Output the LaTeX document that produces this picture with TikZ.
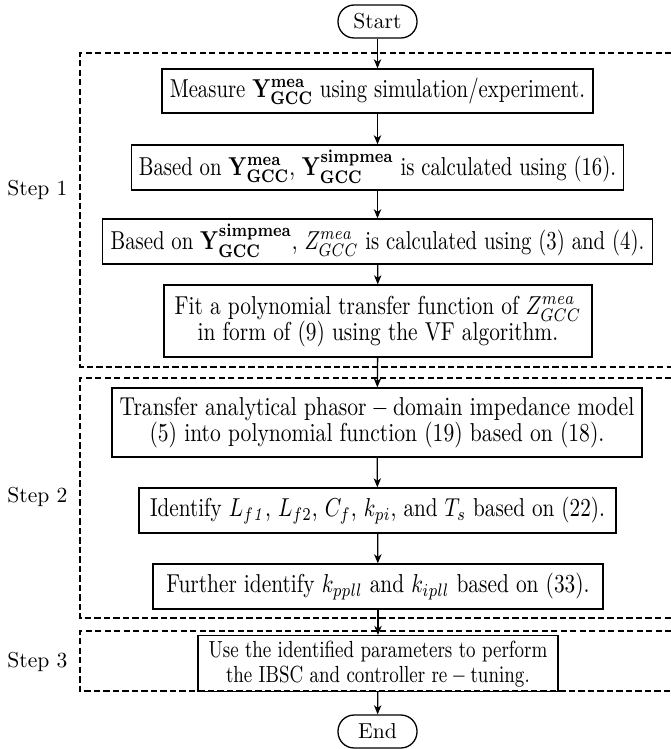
\documentclass[tikz,border=0pt]{standalone}
\usepackage{graphicx}
\usetikzlibrary{arrows.meta}
% box captions are set slightly condensed and tall
\newcommand\boxtext[2][0.96]{\scalebox{#1}[1.2]{\begin{tabular}{@{}c@{}}#2\end{tabular}}}
\begin{document}
\begin{tikzpicture}[x=0.463pt,y=-0.463pt,
  proc/.style 2 args={draw,line width=0.6pt,align=center,inner sep=0pt,
    minimum width={#1*0.463pt},minimum height={#2*0.463pt}},
  term/.style={draw,line width=0.6pt,rounded corners=7.5pt,inner sep=0pt,
    minimum width={79*0.463pt},minimum height={33*0.463pt}},
  stage/.style={draw,line width=0.6pt,dash pattern=on 2.9pt off 1.5pt},
  flow/.style={-{Stealth[length=4.2pt,width=3.4pt,inset=1.2pt]},line width=0.6pt},
  steplabel/.style={anchor=west,inner sep=0pt}]
  \clip (0,0) rectangle (671,749);

  % stage frames (open to the right)
  \draw[stage] (700,53)  -- (80,53)  -- (80,367) -- (700,367);
  \draw[stage] (700,378) -- (80,378) -- (80,618) -- (700,618);
  \draw[stage] (700,631) -- (80,631) -- (80,691) -- (700,691);

  \node[steplabel] (s1) at (7,190) {Step 1};
  \node[steplabel] (s2) at (7,497) {Step 2};
  \node[steplabel] (s3) at (7,662) {Step 3};

  % flow chart
  \node[term] (start) at (377.5,21.5) {Start};
  \node[proc={431}{44}] (b1) at (377.5,91)
    {\boxtext{Measure $\mathbf{Y}_{\mathbf{GCC}}^{\mathbf{mea}}$ using simulation/experiment.}};
  \node[proc={492}{45}] (b2) at (377.5,167.5)
    {\boxtext{Based on $\mathbf{Y}_{\mathbf{GCC}}^{\mathbf{mea}}$, $\mathbf{Y}_{\mathbf{GCC}}^{\mathbf{simpmea}}$ is calculated using $(16)$.}};
  \node[proc={550}{45}] (b3) at (377.5,241.5)
    {\boxtext{Based on $\mathbf{Y}_{\mathbf{GCC}}^{\mathbf{simpmea}}$, $Z_{GCC}^{mea}$ is calculated using $(3)$ and $(4)$.}};
  \node[proc={428}{72}] (b4) at (378,321)
    {\boxtext[0.99]{Fit a polynomial transfer function of $Z_{GCC}^{mea}$\\[-2pt] in form of $(9)$ using the VF algorithm.}};
  \node[proc={530}{69}] (b5) at (377,422.5)
    {\boxtext[1]{Transfer analytical $\mathrm{phasor-domain}$ impedance model\\[-2pt] $(5)$ into polynomial function $(19)$ based on $(18)$.}};
  \node[proc={477}{45}] (b6) at (377.5,510.5)
    {\boxtext[0.98]{Identify $L_{f\mathit{1}}$, $L_{f2}$, $C_f$, $k_{pi}$, and $T_s$ based on $(22)$.}};
  \node[proc={450}{45}] (b7) at (378,586.5)
    {\boxtext[0.99]{Further identify $k_{ppll}$ and $k_{ipll}$ based on $(33)$.}};
  \node[proc={360}{45}] (b8) at (378,663.5)
    {\boxtext[0.95]{\small Use the identified parameters to perform\\[-2.5pt] \small the IBSC and controller $\mathrm{re-tuning}$.}};
  \node[term] (end) at (377.5,731.5) {End};

  \foreach \a/\b in {start/b1,b1/b2,b2/b3,b3/b4,b4/b5,b5/b6,b6/b7,b7/b8,b8/end}
    \draw[flow] (\a) -- (\b);
\end{tikzpicture}
\end{document}
